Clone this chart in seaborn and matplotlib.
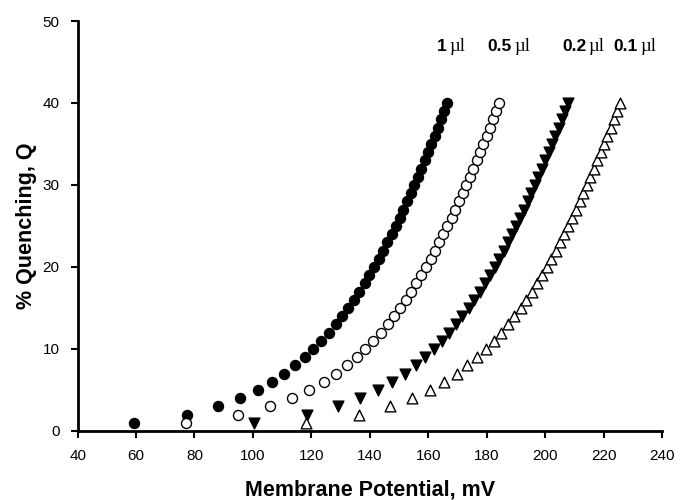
import matplotlib
matplotlib.use("Agg")
import matplotlib.pyplot as plt
import seaborn as sns
import pandas as pd

sns.set_style("ticks", {"text.color": "black", "axes.labelcolor": "black",
                        "xtick.color": "black", "ytick.color": "black",
                        "axes.edgecolor": "black"})
plt.rcParams["font.family"] = ["Liberation Sans", "DejaVu Sans"]

# % quenching levels (same for every dose)
quench = [1, 2, 3, 4, 5, 6, 7, 8, 9, 10,
          11, 12, 13, 14, 15, 16, 17, 18, 19, 20,
          21, 22, 23, 24, 25, 26, 27, 28, 29, 30,
          31, 32, 33, 34, 35, 36, 37, 38, 39, 40]

# membrane potential (mV), one list per dose
mv_1ul = [59.3, 77.3, 87.9, 95.6, 101.6, 106.5, 110.7, 114.4, 117.7, 120.7,
          123.4, 126.0, 128.3, 130.5, 132.6, 134.5, 136.4, 138.2, 139.9, 141.5,
          143.1, 144.6, 146.0, 147.5, 148.9, 150.2, 151.5, 152.8, 154.1, 155.3,
          156.5, 157.7, 158.9, 160.0, 161.1, 162.3, 163.4, 164.5, 165.5, 166.6]
mv_05ul = [77.0, 95.0, 105.7, 113.3, 119.3, 124.3, 128.5, 132.2, 135.5, 138.5,
           141.2, 143.7, 146.1, 148.3, 150.3, 152.3, 154.1, 155.9, 157.6, 159.2,
           160.8, 162.3, 163.8, 165.2, 166.6, 168.0, 169.3, 170.6, 171.8, 173.1,
           174.3, 175.5, 176.6, 177.8, 178.9, 180.0, 181.1, 182.2, 183.3, 184.4]
mv_02ul = [100.5, 118.5, 129.2, 136.8, 142.8, 147.7, 152.0, 155.7, 159.0, 161.9,
           164.7, 167.2, 169.5, 171.7, 173.8, 175.8, 177.6, 179.4, 181.1, 182.7,
           184.3, 185.8, 187.3, 188.7, 190.1, 191.4, 192.8, 194.0, 195.3, 196.5,
           197.7, 198.9, 200.1, 201.2, 202.4, 203.5, 204.6, 205.7, 206.8, 207.9]
mv_01ul = [118.3, 136.3, 146.9, 154.6, 160.6, 165.5, 169.7, 173.4, 176.7, 179.7,
           182.4, 185.0, 187.3, 189.5, 191.6, 193.5, 195.4, 197.2, 198.9, 200.5,
           202.1, 203.6, 205.0, 206.5, 207.9, 209.2, 210.5, 211.8, 213.1, 214.3,
           215.5, 216.7, 217.9, 219.0, 220.1, 221.3, 222.4, 223.5, 224.5, 225.6]

dose_labels = ["1", "0.5", "0.2", "0.1"]
label_x = [166.8, 189.2, 214.7, 232.3]
label_y = 46.9

fig = plt.figure(figsize=(6.81, 5.0), dpi=100)
ax = fig.add_axes([0.114, 0.138, 0.858, 0.82])

series = [
    (mv_1ul, "o", "black", 52),
    (mv_05ul, "o", "white", 52),
    (mv_02ul, "v", "black", 60),
    (mv_01ul, "^", "white", 60),
]
for mv, mk, face, size in series:
    df = pd.DataFrame({"mv": mv, "q": quench})
    sns.scatterplot(data=df, x="mv", y="q", marker=mk, s=size,
                    color=face, edgecolor="black", linewidth=1.0,
                    ax=ax, zorder=3, clip_on=False)

# dose labels: bold number, serif "µl"
for lab, lx in zip(dose_labels, label_x):
    ax.text(lx - 0.6, label_y, lab, ha="right", va="center",
            fontsize=12.5, fontweight="bold")
    ax.text(lx + 0.3, label_y, "\u00b5l", ha="left", va="center",
            fontsize=13.5, family="Liberation Serif")

ax.set_xlim(40, 240)
ax.set_ylim(0, 50)
ax.set_xticks(range(40, 241, 20))
ax.set_yticks(range(0, 51, 10))
sns.despine(ax=ax)
for sp in ["left", "bottom"]:
    ax.spines[sp].set_linewidth(2.0)
ax.tick_params(axis="both", direction="out", length=5, width=1.5,
               labelsize=11, pad=8)

ax.set_xlabel("Membrane Potential, mV", fontsize=15.5, fontweight="bold",
              labelpad=12)
ax.set_ylabel("% Quenching, Q", fontsize=15.5, fontweight="bold",
              labelpad=4)

fig.savefig("out.png", dpi=100)
